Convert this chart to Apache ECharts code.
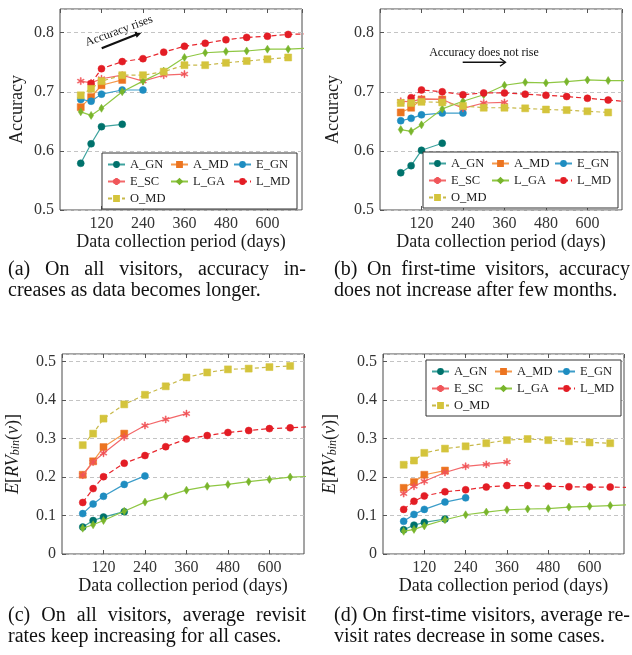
<!DOCTYPE html>
<html>
<head>
<meta charset="utf-8">
<script src="https://cdn.jsdelivr.net/npm/echarts@6/dist/echarts.min.js"></script>
<style>
html, body { margin: 0; padding: 0; background: #fff; }
#chart { width: 632px; height: 655px; }
</style>
</head>
<body>
<div id="chart"></div>
<script>
const days = [60, 90, 120, 180, 240, 300, 360, 420, 480, 540, 600, 660, 720]
const xTicks = [120, 240, 360, 480, 600]
const seriesNames = ['A_GN', 'A_MD', 'E_GN', 'E_SC', 'L_GA', 'L_MD', 'O_MD']

// (a) accuracy, all visitors
const accAllAGN = [0.579, 0.612, 0.641, 0.645]
const accAllAMD = [0.674, 0.691, 0.711, 0.720]
const accAllEGN = [0.687, 0.684, 0.696, 0.703, 0.703]
const accAllESC = [0.718, 0.715, 0.722, 0.728, 0.718, 0.728, 0.730]
const accAllLGA = [0.666, 0.660, 0.672, 0.700, 0.718, 0.735, 0.758, 0.766, 0.768, 0.769, 0.772, 0.772, 0.774]
const accAllLMD = [null, 0.714, 0.739, 0.751, 0.756, 0.767, 0.777, 0.782, 0.788, 0.792, 0.794, 0.797, 0.798]
const accAllOMD = [0.694, 0.705, 0.718, 0.728, 0.728, 0.734, 0.745, 0.745, 0.749, 0.752, 0.755, 0.758]

// (b) accuracy, first-time visitors
const accNewAGN = [0.563, 0.575, 0.601, 0.613]
const accNewAMD = [0.665, 0.673, 0.687, 0.687]
const accNewEGN = [0.651, 0.655, 0.661, 0.664, 0.664]
const accNewESC = [0.684, 0.683, 0.688, 0.687, 0.672, 0.681, 0.682]
const accNewLGA = [0.636, 0.633, 0.644, 0.671, 0.684, 0.695, 0.711, 0.716, 0.715, 0.717, 0.720, 0.719, 0.719]
const accNewLMD = [null, 0.690, 0.703, 0.700, 0.695, 0.698, 0.698, 0.696, 0.694, 0.692, 0.689, 0.686, 0.683]
const accNewOMD = [0.681, 0.681, 0.683, 0.682, 0.676, 0.673, 0.673, 0.672, 0.670, 0.669, 0.667, 0.665]

// (c) average revisit rate, all visitors
const rvAllAGN = [0.070, 0.087, 0.096, 0.110]
const rvAllAMD = [0.206, 0.241, 0.278, 0.313]
const rvAllEGN = [0.105, 0.130, 0.150, 0.181, 0.203]
const rvAllESC = [0.205, 0.239, 0.262, 0.304, 0.334, 0.350, 0.365]
const rvAllLGA = [0.067, 0.076, 0.087, 0.111, 0.135, 0.150, 0.166, 0.176, 0.181, 0.188, 0.194, 0.200, 0.202]
const rvAllLMD = [0.134, 0.170, 0.201, 0.236, 0.256, 0.279, 0.299, 0.308, 0.316, 0.321, 0.326, 0.328, 0.331]
const rvAllOMD = [0.283, 0.313, 0.352, 0.389, 0.414, 0.436, 0.459, 0.472, 0.480, 0.482, 0.486, 0.489]

// (d) average revisit rate, first-time visitors
const rvNewAGN = [0.063, 0.075, 0.082, 0.091]
const rvNewAMD = [0.172, 0.187, 0.206, 0.217]
const rvNewEGN = [0.085, 0.103, 0.116, 0.135, 0.146]
const rvNewESC = [0.157, 0.176, 0.189, 0.212, 0.228, 0.233, 0.239]
const rvNewLGA = [0.059, 0.064, 0.073, 0.089, 0.102, 0.109, 0.115, 0.117, 0.118, 0.122, 0.124, 0.126, 0.128]
const rvNewLMD = [0.116, 0.137, 0.151, 0.162, 0.167, 0.174, 0.178, 0.178, 0.176, 0.175, 0.174, 0.174, 0.173]
const rvNewOMD = [0.232, 0.243, 0.263, 0.274, 0.280, 0.288, 0.296, 0.299, 0.296, 0.293, 0.290, 0.288]

const panels = [
  [accAllAGN, accAllAMD, accAllEGN, accAllESC, accAllLGA, accAllLMD, accAllOMD],
  [accNewAGN, accNewAMD, accNewEGN, accNewESC, accNewLGA, accNewLMD, accNewOMD],
  [rvAllAGN, rvAllAMD, rvAllEGN, rvAllESC, rvAllLGA, rvAllLMD, rvAllOMD],
  [rvNewAGN, rvNewAMD, rvNewEGN, rvNewESC, rvNewLGA, rvNewLMD, rvNewOMD]
]

const captions = [
  ['(a) On all visitors, accuracy in-', 'creases as data becomes longer.'],
  ['(b) On first-time visitors, accuracy', 'does not increase after few months.'],
  ['(c) On all visitors, average revisit', 'rates keep increasing for all cases.'],
  ['(d) On first-time visitors, average re-', 'visit rates decrease in some cases.']
]

const serif = '"Liberation Serif", "Times New Roman", serif'
// six-armed asterisk like the pgfplots "star" mark
const asterisk = 'path://M-1.3,-10L1.3,-10L1.3,10L-1.3,10Z' +
  'M8.01,6.126L-9.31,-3.874L-8.01,-6.126L9.31,3.874Z' +
  'M9.31,-3.874L-8.01,6.126L-9.31,3.874L8.01,-6.126Z'

const look = {
  A_GN: { line: '#3ea39e', mark: '#00726c', symbol: 'circle', size: 7, dash: 'solid' },
  A_MD: { line: '#f5994c', mark: '#ec7420', symbol: 'rect', size: 7, dash: 'solid' },
  E_GN: { line: '#3c9dc9', mark: '#1e8dc1', symbol: 'circle', size: 7, dash: 'solid' },
  E_SC: { line: '#f3686a', mark: '#f05559', symbol: asterisk, size: 7, dash: 'solid' },
  L_GA: { line: '#8fc743', mark: '#79b52c', symbol: 'diamond', size: [5, 8], dash: 'solid' },
  L_MD: { line: '#e8262d', mark: '#e31d25', symbol: 'circle', size: 7, dash: [5, 3] },
  O_MD: { line: '#c8b94a', mark: '#d4c43c', symbol: 'rect', size: 7, dash: [4, 3] }
}

const grids = [
  { left: 60, top: 9, width: 242, height: 201 },
  { left: 380, top: 9, width: 242, height: 201 },
  { left: 62, top: 354, width: 242, height: 200 },
  { left: 383, top: 354, width: 241, height: 200 }
].map(g => Object.assign(g, { show: true, borderColor: '#4a4a4a', borderWidth: 1, containLabel: false }))

const xAxes = []
const yAxes = []
const series = []

grids.forEach((g, i) => {
  xAxes.push({
    gridIndex: i,
    type: 'value',
    min: 0,
    max: 700,
    interval: 120,
    name: 'Data collection period (days)',
    nameLocation: 'middle',
    nameGap: 21,
    nameTextStyle: { fontFamily: serif, fontSize: 18, color: '#1a1a1a' },
    axisLine: { show: false },
    axisTick: { inside: true, length: 4, lineStyle: { color: '#555' } },
    axisLabel: {
      fontFamily: serif,
      fontSize: 16,
      color: '#333',
      margin: 6,
      showMinLabel: false,
      showMaxLabel: false,
      formatter: v => (xTicks.includes(v) ? String(v) : '')
    },
    splitLine: { show: false }
  })
  const isAcc = i < 2
  yAxes.push({
    gridIndex: i,
    type: 'value',
    min: isAcc ? 0.5 : 0,
    max: isAcc ? 0.84 : 0.52,
    interval: 0.1,
    name: isAcc ? 'Accuracy' : '{it|E}[{it|RV}{sub|bin}({it|v})]',
    nameLocation: 'middle',
    nameRotate: 90,
    nameGap: isAcc ? (i === 0 ? 34 : 38) : (i === 2 ? 40 : 44),
    nameTextStyle: {
      fontFamily: serif,
      fontSize: 18,
      color: '#1a1a1a',
      rich: {
        it: { fontFamily: serif, fontSize: 18, fontStyle: 'italic', color: '#1a1a1a' },
        sub: { fontFamily: serif, fontSize: 12, fontStyle: 'italic', color: '#1a1a1a', verticalAlign: 'bottom' }
      }
    },
    axisLine: { show: false },
    axisTick: { inside: true, length: 4, lineStyle: { color: '#555' } },
    axisLabel: {
      fontFamily: serif,
      fontSize: 16,
      color: '#333',
      margin: 6,
      showMaxLabel: false,
      formatter: v => (v === 0 ? '0' : v.toFixed(1))
    },
    splitLine: { show: true, lineStyle: { color: '#c4c4c4', type: [4, 3], width: 1 } }
  })
  panels[i].forEach((vals, k) => {
    const name = seriesNames[k]
    const st = look[name]
    const pts = []
    vals.forEach((v, j) => {
      if (v !== null) pts.push([days[j], v])
    })
    series.push({
      name: name,
      type: 'line',
      xAxisIndex: i,
      yAxisIndex: i,
      data: pts,
      symbol: st.symbol,
      symbolSize: st.size,
      showSymbol: true,
      clip: true,
      itemStyle: { color: st.mark, borderColor: st.mark, borderWidth: 0.5 },
      lineStyle: { color: st.line, width: 1.2, type: st.dash },
      emphasis: { disabled: true },
      z: 2 + k
    })
  })
})

// top axes: only inside ticks on the upper frame
grids.forEach((g, i) => {
  xAxes.push({
    gridIndex: i,
    type: 'value',
    position: 'top',
    min: 0,
    max: 700,
    interval: 120,
    axisLine: { show: false },
    axisTick: { inside: true, length: 4, lineStyle: { color: '#555' } },
    axisLabel: { show: false },
    splitLine: { show: false }
  })
})

function makeLegend(left, top) {
  return {
    left: left,
    top: top,
    width: 192,
    orient: 'horizontal',
    padding: [5, 5, 4, 5],
    itemGap: 4,
    itemWidth: 17,
    itemHeight: 6,
    borderColor: '#333',
    borderWidth: 1,
    borderRadius: 0,
    backgroundColor: '#fff',
    selectedMode: false,
    textStyle: { fontFamily: serif, fontSize: 12.5, color: '#1a1a1a', width: 36, lineHeight: 11, align: 'center' },
    data: seriesNames
  }
}

// caption lines, first line justified to the column width
const measure = document.createElement('canvas').getContext('2d')
const capFont = '20px "Liberation Serif"'
measure.font = capFont
function captionLines(lines, x0, x1, y1, y2) {
  const out = []
  const words = lines[0].split(' ')
  const widths = words.map(w => measure.measureText(w).width)
  const total = widths.reduce((a, b) => a + b, 0)
  const gap = (x1 - x0 - total) / (words.length - 1)
  let x = x0
  words.forEach((w, j) => {
    out.push({ type: 'text', x: x, y: y1, style: { text: w, font: capFont, fill: '#111', verticalAlign: 'middle' } })
    x += widths[j] + gap
  })
  out.push({ type: 'text', x: x0, y: y2, style: { text: lines[1], font: capFont, fill: '#111', verticalAlign: 'middle' } })
  return out
}

function arrowHead(x, y, ang, len, half) {
  const c = Math.cos(ang)
  const s = Math.sin(ang)
  return [
    [x, y],
    [x - len * c + half * s, y - len * s - half * c],
    [x - len * c - half * s, y - len * s + half * c]
  ]
}

const angA = Math.atan2(32.3 - 48.3, 141.7 - 101.7)
const graphics = [
  {
    type: 'text', x: 119, y: 31, rotation: 20 * Math.PI / 180,
    style: { text: 'Accuracy rises', font: '12px "Liberation Serif"', fill: '#111', align: 'center', verticalAlign: 'middle' }
  },
  { type: 'line', shape: { x1: 101.7, y1: 48.3, x2: 137, y2: 34.2 }, style: { stroke: '#111', lineWidth: 2.2 } },
  { type: 'polygon', shape: { points: arrowHead(142, 32.2, angA, 7, 3.2) }, style: { fill: '#111' } },
  {
    type: 'text', x: 484, y: 52.5,
    style: { text: 'Accuracy does not rise', font: '12px "Liberation Serif"', fill: '#111', align: 'center', verticalAlign: 'middle' }
  },
  { type: 'line', shape: { x1: 462.7, y1: 62.3, x2: 505, y2: 62.3 }, style: { stroke: '#111', lineWidth: 1.4 } },
  { type: 'polyline', shape: { points: [[500, 58.3], [505.5, 62.3], [500, 66.3]] }, style: { stroke: '#111', lineWidth: 1.3, fill: null } }
]
  .concat(captionLines(captions[0], 8, 306, 270, 291))
  .concat(captionLines(captions[1], 334, 630, 270, 291))
  .concat(captionLines(captions[2], 8, 306, 616, 637))
  .concat(captionLines(captions[3], 334, 630, 616, 637))

const chart = echarts.init(document.getElementById('chart'), null, { renderer: 'canvas' })
chart.setOption({
  animation: false,
  backgroundColor: '#fff',
  grid: grids,
  xAxis: xAxes,
  yAxis: yAxes,
  legend: [makeLegend(102, 153), makeLegend(423, 152), makeLegend(426, 360)],
  series: series,
  graphic: graphics
})
window.addEventListener('resize', chart.resize)
</script>
</body>
</html>
